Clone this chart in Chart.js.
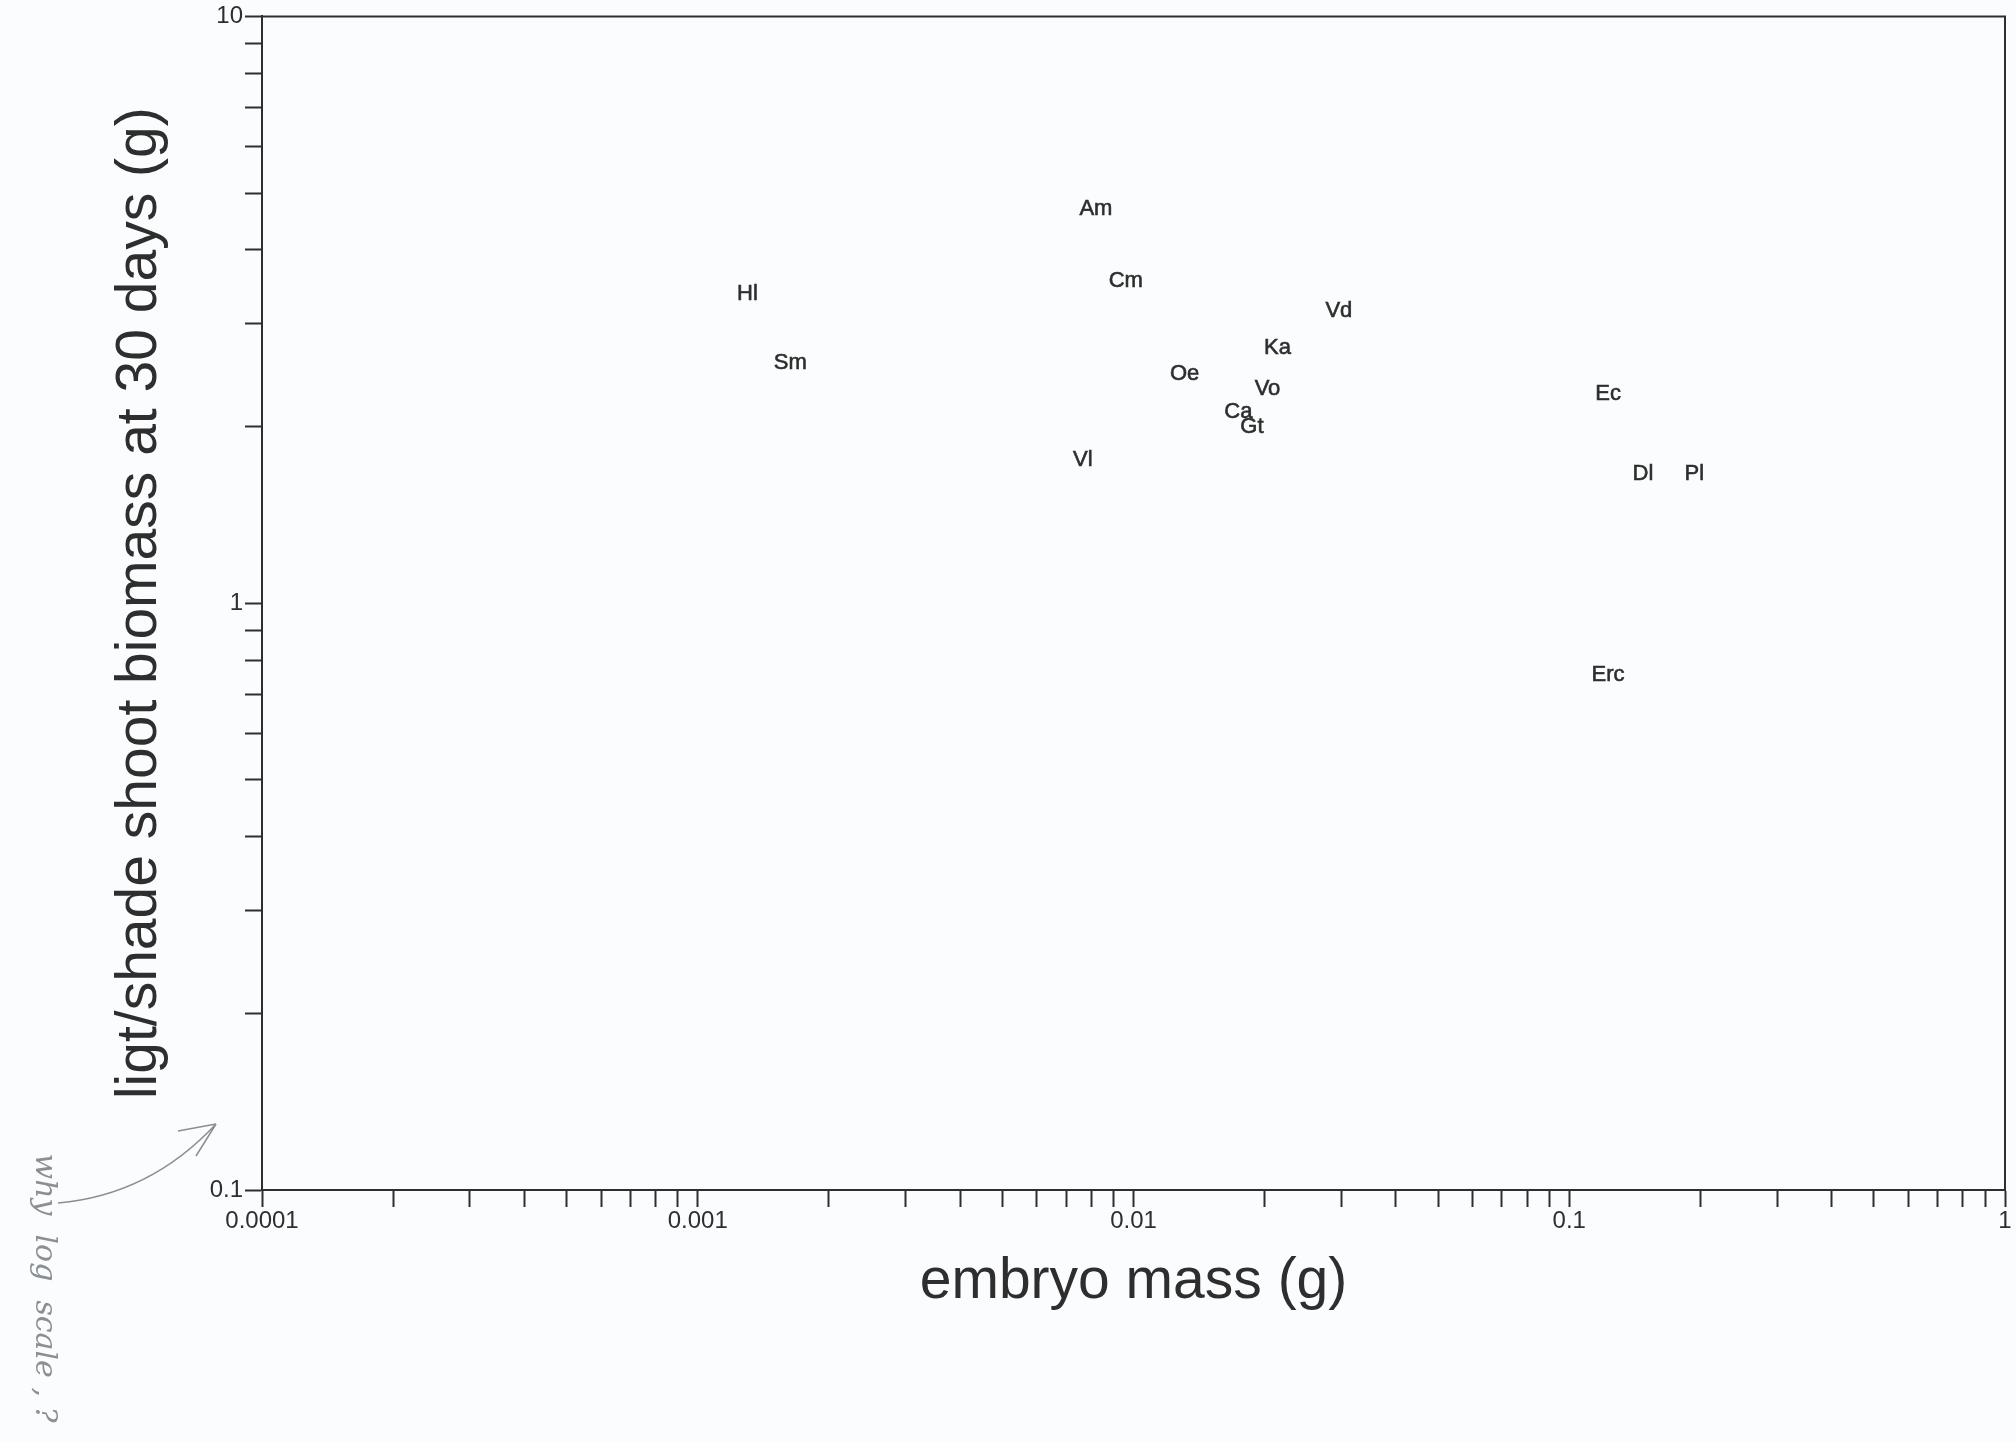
<!DOCTYPE html>
<html>
<head>
<meta charset="utf-8">
<title>embryo mass vs light/shade shoot biomass</title>
<script src="https://cdn.jsdelivr.net/npm/chart.js@4.4.1/dist/chart.umd.min.js"></script>
<style>
  html, body { margin: 0; padding: 0; background: #fbfcfd; }
  canvas { display: block; }
</style>
</head>
<body>
<canvas id="scatterCanvas" width="2016" height="1442"></canvas>
<script>
// species codes, one per plotted label
const speciesCodes = ["Am", "Cm", "Hl", "Sm", "Vd", "Ka", "Oe", "Vo", "Ca", "Gt", "Vl", "Ec", "Dl", "Pl", "Erc"];
// embryo mass (g)
const embryoMass = [0.0082, 0.0096, 0.0013, 0.00163, 0.0296, 0.0214, 0.0131, 0.0203, 0.0174, 0.0187, 0.00765, 0.1228, 0.1476, 0.1937, 0.1228];
// light/shade shoot biomass at 30 days (g)
const shootRatio = [4.69, 3.54, 3.36, 2.57, 3.15, 2.72, 2.46, 2.32, 2.115, 2.0, 1.755, 2.27, 1.66, 1.66, 0.756];

const xMajorTicks = [0.0001, 0.001, 0.01, 0.1, 1];
const xTickLabels = ["0.0001", "0.001", "0.01", "0.1", "1"];
const yMajorTicks = [0.1, 1, 10];
const yTickLabels = ["0.1", "1", "10"];

const ink = "#2e2e2e";
const sans = "'Liberation Sans', Arial, sans-serif";

// decade ticks 1..9 between the labelled majors
const logTicks = (majors) => {
  const out = [];
  majors.forEach((m, i) => {
    out.push({ value: m });
    if (i < majors.length - 1) {
      for (let k = 2; k <= 9; k++) out.push({ value: m * k });
    }
  });
  return out;
};

const labelFor = (majors, labels) => (value) => {
  const i = majors.findIndex((m) => Math.abs(Math.log10(m) - Math.log10(value)) < 1e-9);
  return i >= 0 ? labels[i] : "";
};

const backgroundPlugin = {
  id: "paper",
  beforeDraw(chart) {
    const { ctx, width, height } = chart;
    ctx.save();
    ctx.fillStyle = "#fbfcfd";
    ctx.fillRect(0, 0, width, height);
    ctx.restore();
  },
};

const framePlugin = {
  id: "frame",
  afterDraw(chart) {
    const { ctx, chartArea: a } = chart;
    ctx.save();
    ctx.strokeStyle = ink;
    ctx.lineWidth = 2;
    ctx.beginPath();
    ctx.moveTo(a.left, a.top);
    ctx.lineTo(a.right, a.top);
    ctx.lineTo(a.right, a.bottom);
    ctx.stroke();
    ctx.restore();
  },
};

const codeLabels = {
  id: "codeLabels",
  afterDatasetsDraw(chart) {
    const { ctx } = chart;
    const meta = chart.getDatasetMeta(0);
    ctx.save();
    ctx.font = "22px " + sans;
    ctx.fillStyle = ink;
    ctx.strokeStyle = ink;
    ctx.lineWidth = 0.6;
    ctx.textAlign = "center";
    ctx.textBaseline = "middle";
    meta.data.forEach((pt, i) => {
      ctx.fillText(speciesCodes[i], pt.x, pt.y);
      ctx.strokeText(speciesCodes[i], pt.x, pt.y);
    });
    ctx.restore();
  },
};

// pencil note scribbled in the margin
const marginNote = {
  id: "marginNote",
  afterDraw(chart) {
    const { ctx } = chart;
    ctx.save();
    ctx.strokeStyle = "#8a8f94";
    ctx.lineWidth = 1.5;
    ctx.beginPath();
    ctx.moveTo(58, 1203);
    ctx.quadraticCurveTo(150, 1195, 216, 1124);
    ctx.moveTo(216, 1124);
    ctx.lineTo(178, 1131);
    ctx.moveTo(216, 1124);
    ctx.lineTo(196, 1156);
    ctx.stroke();
    ctx.translate(44, 1288);
    ctx.rotate(Math.PI / 2);
    ctx.font = "italic 30px 'DejaVu Serif', serif";
    ctx.fillStyle = "#8a8f94";
    ctx.textAlign = "center";
    ctx.textBaseline = "middle";
    ctx.fillText("why  log  scale , ?", 0, 0);
    ctx.restore();
  },
};

const points = embryoMass.map((x, i) => ({ x, y: shootRatio[i] }));

new Chart(document.getElementById("scatterCanvas"), {
  type: "scatter",
  data: {
    datasets: [
      {
        label: "species",
        data: points,
        pointRadius: 0,
        pointHoverRadius: 0,
      },
    ],
  },
  options: {
    responsive: false,
    animation: false,
    devicePixelRatio: 1,
    events: [],
    layout: { padding: { left: 0, right: 11, top: 16, bottom: 0 } },
    plugins: {
      legend: { display: false },
      tooltip: { enabled: false },
    },
    scales: {
      x: {
        type: "logarithmic",
        position: "bottom",
        min: 0.0001,
        max: 1,
        afterBuildTicks: (scale) => { scale.ticks = logTicks(xMajorTicks); },
        afterFit: (scale) => { scale.height = 252; },
        border: { display: true, color: ink, width: 2 },
        grid: {
          display: true,
          drawOnChartArea: false,
          drawTicks: true,
          tickLength: 17,
          tickWidth: 2,
          tickColor: ink,
        },
        ticks: {
          autoSkip: false,
          maxRotation: 0,
          padding: 0,
          color: ink,
          font: { family: sans, size: 24 },
          callback: labelFor(xMajorTicks, xTickLabels),
        },
        title: {
          display: true,
          text: "embryo mass (g)",
          color: ink,
          font: { family: sans, size: 57, lineHeight: 1 },
          padding: { top: 0, bottom: 131 },
        },
      },
      y: {
        type: "logarithmic",
        position: "left",
        min: 0.1,
        max: 10,
        afterBuildTicks: (scale) => { scale.ticks = logTicks(yMajorTicks); },
        afterFit: (scale) => { scale.width = 262; },
        border: { display: true, color: ink, width: 2 },
        grid: {
          display: true,
          drawOnChartArea: false,
          drawTicks: true,
          tickLength: 17,
          tickWidth: 2,
          tickColor: ink,
        },
        ticks: {
          autoSkip: false,
          padding: 2,
          color: ink,
          font: { family: sans, size: 24 },
          callback: labelFor(yMajorTicks, yTickLabels),
        },
        title: {
          display: true,
          text: "ligt/shade shoot biomass at 30 days (g)",
          color: ink,
          font: { family: sans, size: 57, lineHeight: 1 },
          padding: { top: 112, bottom: 0 },
        },
      },
    },
  },
  plugins: [backgroundPlugin, codeLabels, framePlugin, marginNote],
});
</script>
</body>
</html>
